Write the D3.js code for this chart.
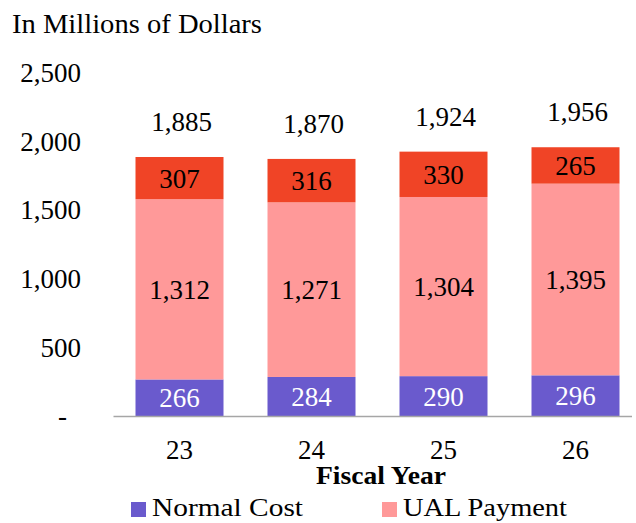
<!DOCTYPE html>
<html>
<head>
<meta charset="utf-8">
<script src="https://cdn.jsdelivr.net/npm/d3@7"></script>
<style>
  body { margin: 0; background: #fff; }
  text { font-family: "Liberation Serif", serif; }
</style>
</head>
<body>
<div id="chart"></div>
<script>
// chart data
var years = ["23", "24", "25", "26"];
var normalCost = [266, 284, 290, 296];
var ualPayment = [1312, 1271, 1304, 1395];
var otherCost = [307, 316, 330, 265];
var totals = [1885, 1870, 1924, 1956];
var yTicks = [0, 500, 1000, 1500, 2000, 2500];

var seriesNames = ["Normal Cost", "UAL Payment", "Other"];
var colors = ["#6a5acd", "#ff9999", "#f04426"];

var width = 636, height = 523;

var svg = d3.select("#chart").append("svg")
    .attr("width", width)
    .attr("height", height);

var rows = years.map(function(y, i) {
    return { year: y, "Normal Cost": normalCost[i], "UAL Payment": ualPayment[i], "Other": otherCost[i], total: totals[i] };
});

var x = d3.scaleBand()
    .domain(years)
    .range([113.5, 641.5])
    .paddingInner(1 / 3)
    .paddingOuter(1 / 6);

var y = d3.scaleLinear()
    .domain([0, 2500])
    .range([416, 72.5]);

var stack = d3.stack().keys(seriesNames)(rows);

// title
svg.append("text")
    .attr("x", 12)
    .attr("y", 33)
    .attr("font-size", "27px")
    .attr("textLength", 250)
    .attr("lengthAdjust", "spacingAndGlyphs")
    .text("In Millions of Dollars");

// y labels
svg.selectAll(".ytick").data(yTicks).enter()
    .append("text")
    .attr("class", "ytick")
    .attr("x", function(d) { return d === 0 ? 67 : 81; })
    .attr("y", function(d) { return y(d); })
    .attr("dy", "0.35em")
    .attr("text-anchor", "end")
    .attr("font-size", "27px")
    .text(function(d) { return d === 0 ? "-" : d3.format(",")(d); });

// bars
var layers = svg.selectAll(".layer").data(stack).enter()
    .append("g")
    .attr("class", "layer")
    .attr("fill", function(d, i) { return colors[i]; });

layers.selectAll("rect").data(function(d) { return d; }).enter()
    .append("rect")
    .attr("x", function(d) { return x(d.data.year); })
    .attr("y", function(d) { return y(d[1]); })
    .attr("width", x.bandwidth())
    .attr("height", function(d) { return y(d[0]) - y(d[1]); });

// segment labels
layers.each(function(layer, i) {
    d3.select(this).selectAll("text").data(layer).enter()
        .append("text")
        .attr("x", function(d) { return x(d.data.year) + x.bandwidth() / 2; })
        .attr("y", function(d) { return (y(d[0]) + y(d[1])) / 2; })
        .attr("dy", "0.35em")
        .attr("text-anchor", "middle")
        .attr("font-size", "27px")
        .attr("fill", i === 0 ? "#fff" : "#000")
        .text(function(d) { return d3.format(",")(d[1] - d[0]); });
});

// totals
svg.selectAll(".total").data(rows).enter()
    .append("text")
    .attr("class", "total")
    .attr("x", function(d) { return x(d.year) + x.bandwidth() / 2 + 2; })
    .attr("y", function(d) { return y(d.total) - 26; })
    .attr("text-anchor", "middle")
    .attr("font-size", "27px")
    .text(function(d) { return d3.format(",")(d.total); });

// x axis line
svg.append("line")
    .attr("x1", 113.5).attr("x2", 632)
    .attr("y1", y(0) + 0.5).attr("y2", y(0) + 0.5)
    .attr("stroke", "#a6a6a6")
    .attr("stroke-width", 1.5);

// x labels
svg.selectAll(".xlab").data(years).enter()
    .append("text")
    .attr("class", "xlab")
    .attr("x", function(d) { return x(d) + x.bandwidth() / 2; })
    .attr("y", 459)
    .attr("text-anchor", "middle")
    .attr("font-size", "27px")
    .text(function(d) { return d; });

svg.append("text")
    .attr("x", 381)
    .attr("y", 484)
    .attr("text-anchor", "middle")
    .attr("font-size", "26px")
    .attr("font-weight", "bold")
    .attr("textLength", 130)
    .attr("lengthAdjust", "spacingAndGlyphs")
    .text("Fiscal Year");

// legend (only the first two fit in the view)
var legendItems = [
    { name: seriesNames[0], color: colors[0], x: 131, w: 151 },
    { name: seriesNames[1], color: colors[1], x: 382, w: 164 }
];
var legend = svg.selectAll(".legend").data(legendItems).enter()
    .append("g")
    .attr("class", "legend");
legend.append("rect")
    .attr("x", function(d) { return d.x; })
    .attr("y", 502)
    .attr("width", 15)
    .attr("height", 15)
    .attr("fill", function(d) { return d.color; });
legend.append("text")
    .attr("x", function(d) { return d.x + 21; })
    .attr("y", 516)
    .attr("font-size", "26px")
    .attr("textLength", function(d) { return d.w; })
    .attr("lengthAdjust", "spacingAndGlyphs")
    .text(function(d) { return d.name; });
</script>
</body>
</html>
